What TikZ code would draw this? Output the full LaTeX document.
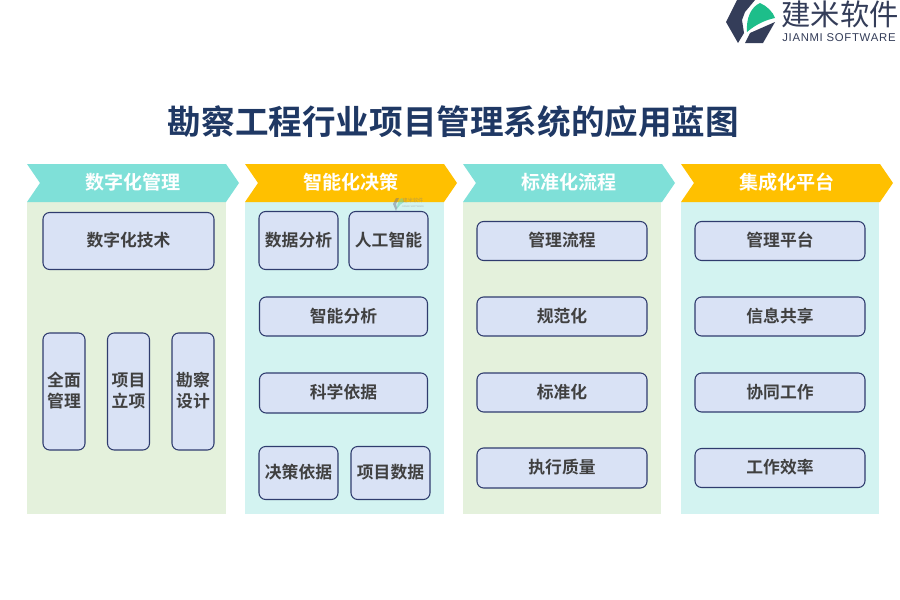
\documentclass[tikz,border=0pt]{standalone}
\usepackage{fontspec}
\setmainfont{Liberation Sans}
\newfontfamily\cjk{Noto Sans CJK SC}[BoldFont={Noto Sans CJK SC Bold}]
\definecolor{navy}{HTML}{1F3864}
\definecolor{hteal}{HTML}{7FE0D8}
\definecolor{hgold}{HTML}{FFC000}
\definecolor{pgreen}{HTML}{E4F1DC}
\definecolor{pteal}{HTML}{D3F3F1}
\definecolor{boxfill}{HTML}{D9E2F5}
\definecolor{boxline}{HTML}{2F3C6E}
\definecolor{txt}{HTML}{404040}
\definecolor{logod}{HTML}{343D59}
\definecolor{logog}{HTML}{1DBE8A}
\tikzset{x=0.75pt,y=-0.75pt,
 item/.style={draw=boxline,line width=0.8pt,fill=boxfill,rounded corners=5pt,inner sep=0pt,align=center,text=txt,font=\cjk\bfseries\fontsize{12.6pt}{15.5pt}\selectfont},
 head/.style={text=white,font=\cjk\bfseries\fontsize{14.3pt}{16pt}\selectfont},
}
\newcommand{\itembox}[6]{\node[item,minimum width=#3*0.75pt,minimum height=#4*0.75pt] (#5) at (#1,#2) {\raisebox{-1.2pt}[\height][\depth]{\begin{tabular}{@{}c@{}}#6\end{tabular}}};}
\renewcommand{\arraystretch}{1.02}
\newcommand{\column}[5]{%
 \fill[#3] (#1,202) rectangle (#1+#5,514);
 \fill[#2] (#1,164) -- (#1+199,164) -- (#1+212,183) -- (#1+199,202) -- (#1,202) -- (#1+13,183) -- cycle;
 \node[head] at (#1+106,182) {#4};}
\begin{document}
\begin{tikzpicture}
\useasboundingbox (0,0) rectangle (900,600);
\fill[white] (0,0) rectangle (900,600);
% logo
\fill[logod] (737,0) -- (755,0) -- (745,12) -- (742,20) -- (744,33) -- (738,43) -- (726,22) -- cycle;
\fill[logod] (745,43) -- (750,33) -- (775,22) -- (763,43) -- cycle;
\fill[logog] (747,32) .. controls (746,18) and (751,7) .. (760,3) .. controls (767,6) and (773,12) .. (775,18) .. controls (765,20) and (755,25) .. (747,32) -- cycle;
\node[text=logod,font=\cjk\fontsize{22pt}{23pt}\selectfont,anchor=center] (brand) at (840,14) {建米软件};
\node[text=logod,font=\fontsize{8.5pt}{9pt}\selectfont,anchor=center] (brand2) at (839,38) {J\kern.5pt I\kern.5pt A\kern.5pt N\kern.5pt M\kern.5pt I\kern.5pt\ S\kern.5pt O\kern.5pt F\kern.5pt T\kern.5pt W\kern.5pt A\kern.5pt R\kern.5pt E};
% title
\node[text=navy,font=\cjk\bfseries\fontsize{25.2pt}{28pt}\selectfont] (title) at (453.5,122) {勘察工程行业项目管理系统的应用蓝图};
% columns
\column{27}{hteal}{pgreen}{数字化管理}{199}
\column{245}{hgold}{pteal}{智能化决策}{199}
\column{463}{hteal}{pgreen}{标准化流程}{198}
\column{681}{hgold}{pteal}{集成化平台}{198}
% watermark
\begin{scope}[opacity=.5]
\fill[logod!70] (396,198) -- (399,198) -- (396,204) -- (397,208) -- (396,211) -- (393,204) -- cycle;
\fill[logog!70] (397,209) .. controls (397,203) and (399,199) .. (402,198) -- (404,202) .. controls (401,203) and (399,206) .. (397,209) -- cycle;
\node[text=gray,font=\cjk\fontsize{3.9pt}{5pt}\selectfont] (wm) at (413,201) {建米软件};
\node[text=gray,font=\fontsize{1.8pt}{2pt}\selectfont] (wm2) at (413,206.5) {JIANMI SOFTWARE};
\end{scope}
% column 1
\itembox{128.5}{241}{171}{57}{a1}{数字化技术}
\itembox{64}{391.5}{42}{117}{a2}{全面\\管理}
\itembox{128.5}{391.5}{42}{117}{a3}{项目\\立项}
\itembox{193}{391.5}{42}{117}{a4}{勘察\\设计}
% column 2
\itembox{298.5}{240.5}{79}{58}{b1}{数据分析}
\itembox{388.5}{240.5}{79}{58}{b2}{人工智能}
\itembox{343.5}{316.5}{168}{39}{b3}{智能分析}
\itembox{343.5}{393}{168}{40}{b4}{科学依据}
\itembox{298.5}{473}{79}{53}{b5}{决策依据}
\itembox{390.5}{473}{79}{53}{b6}{项目数据}
% column 3
\itembox{562}{241}{170}{39}{c1}{管理流程}
\itembox{562}{316.5}{170}{39}{c2}{规范化}
\itembox{562}{392.5}{170}{39}{c3}{标准化}
\itembox{562}{468}{170}{40}{c4}{执行质量}
% column 4
\itembox{780}{241}{170}{39}{d1}{管理平台}
\itembox{780}{316.5}{170}{39}{d2}{信息共享}
\itembox{780}{392.5}{170}{39}{d3}{协同工作}
\itembox{780}{468}{170}{39}{d4}{工作效率}
\end{tikzpicture}
\end{document}
